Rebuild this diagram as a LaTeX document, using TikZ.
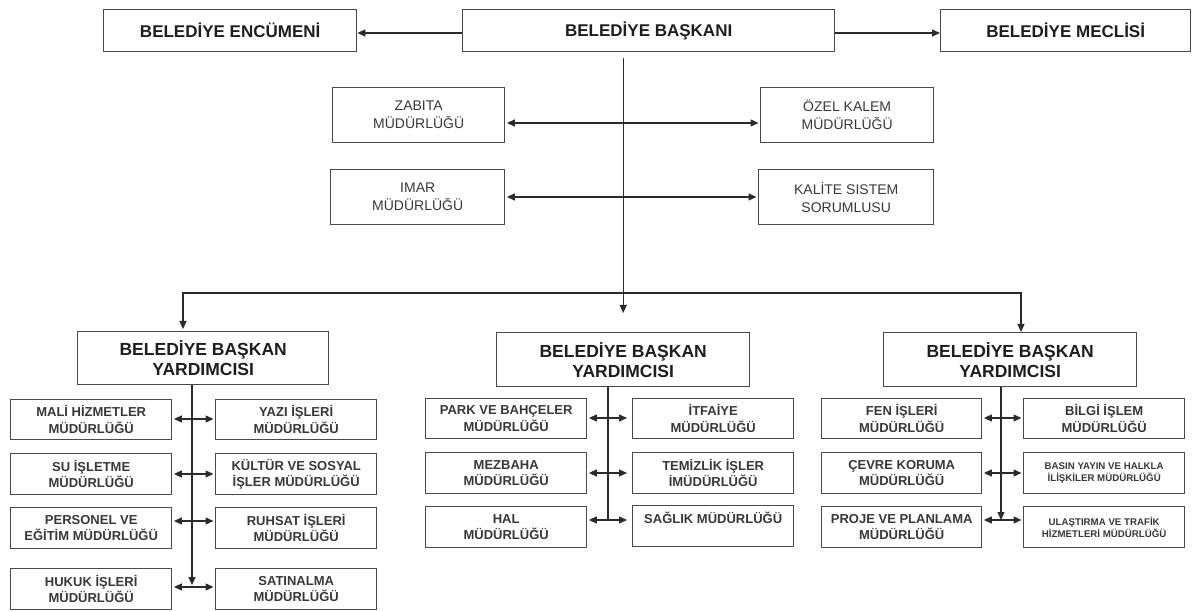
\documentclass[tikz,border=0pt]{standalone}
\usepackage{fontspec}
\setmainfont{Liberation Sans}
\usetikzlibrary{arrows.meta,calc}
\definecolor{ln}{HTML}{2B2B2B}
\definecolor{bd}{HTML}{4A4A4A}
\definecolor{tx}{HTML}{1E1E1E}
\definecolor{txb}{HTML}{383838}
\begin{document}
\begin{tikzpicture}[x=1pt,y=-1pt,
  box/.style={draw=bd, line width=1.4pt, fill=white, anchor=north west, inner sep=0pt, align=center, text=tx},
  topbox/.style={box, font=\fontsize{17}{20}\selectfont\bfseries},
  vpbox/.style={box, font=\fontsize{17.5}{20}\selectfont\bfseries},
  midbox/.style={box, text=txb, font=\fontsize{14}{18}\selectfont},
  subbox/.style={box, text=txb, font=\fontsize{13}{16.5}\selectfont\bfseries},
  tinybox/.style={box, text=txb, font=\fontsize{9.7}{12}\selectfont\bfseries},
  con/.style={draw=ln, line width=1.3pt},
  tip/.style={-{Triangle[length=8pt,width=7pt]}},
  dbl/.style={{Triangle[length=8pt,width=7pt]}-{Triangle[length=8pt,width=7pt]}, shorten <=1.5pt, shorten >=1.5pt}
]
\useasboundingbox[fill=white] (0,0) rectangle (1195,612);

% top row
\node[topbox, minimum width=253pt, minimum height=42pt] (enc) at (103,9) {BELEDİYE ENCÜMENİ};
\node[topbox, minimum width=372pt, minimum height=42pt] (bsk) at (462,9) {BELEDİYE BAŞKANI};
\node[topbox, minimum width=250pt, minimum height=42pt] (mec) at (940,9) {BELEDİYE MECLİSİ};

% staff units
\node[midbox, minimum width=172pt, minimum height=55pt] (zab) at (332,87) {ZABITA\\MÜDÜRLÜĞÜ};
\node[midbox, minimum width=173pt, minimum height=55pt] (ozk) at (760,87) {ÖZEL KALEM\\MÜDÜRLÜĞÜ};
\node[midbox, minimum width=174pt, minimum height=55pt] (imr) at (330,169) {IMAR\\MÜDÜRLÜĞÜ};
\node[midbox, minimum width=175pt, minimum height=55pt] (kal) at (758,169) {KALİTE SISTEM\\SORUMLUSU};

% deputy mayors
\node[vpbox, minimum width=251pt, minimum height=53pt] (vpl) at (77,331) {BELEDİYE BAŞKAN\\YARDIMCISI};
\node[vpbox, minimum width=253pt, minimum height=54pt] (vpm) at (496,332) {BELEDİYE BAŞKAN\\YARDIMCISI};
\node[vpbox, minimum width=253pt, minimum height=54pt] (vpr) at (883,332) {BELEDİYE BAŞKAN\\YARDIMCISI};

% left column
\node[subbox, minimum width=161pt, minimum height=40pt] (a1L) at (10,399) {MALİ HİZMETLER\\MÜDÜRLÜĞÜ};
\node[subbox, minimum width=161pt, minimum height=40pt] (a1R) at (215,399) {YAZI İŞLERİ\\MÜDÜRLÜĞÜ};
\node[subbox, minimum width=161pt, minimum height=41pt] (a2L) at (10,453) {SU İŞLETME\\MÜDÜRLÜĞÜ};
\node[subbox, minimum width=161pt, minimum height=41pt] (a2R) at (215,453) {KÜLTÜR VE SOSYAL\\İŞLER MÜDÜRLÜĞÜ};
\node[subbox, minimum width=161pt, minimum height=41pt] (a3L) at (10,507) {PERSONEL VE\\EĞİTİM MÜDÜRLÜĞÜ};
\node[subbox, minimum width=161pt, minimum height=41pt] (a3R) at (215,507) {RUHSAT İŞLERİ\\MÜDÜRLÜĞÜ};
\node[subbox, minimum width=161pt, minimum height=41pt] (a4L) at (10,568) {HUKUK İŞLERİ\\MÜDÜRLÜĞÜ};
\node[subbox, minimum width=161pt, minimum height=41pt] (a4R) at (215,568) {SATINALMA\\MÜDÜRLÜĞÜ};

% middle column
\node[subbox, minimum width=161pt, minimum height=40pt] (b1L) at (425,398) {PARK VE BAHÇELER\\MÜDÜRLÜĞÜ};
\node[subbox, minimum width=161pt, minimum height=40pt] (b1R) at (632,398) {İTFAİYE\\MÜDÜRLÜĞÜ};
\node[subbox, minimum width=161pt, minimum height=41pt] (b2L) at (425,452) {MEZBAHA\\MÜDÜRLÜĞÜ};
\node[subbox, minimum width=161pt, minimum height=41pt] (b2R) at (632,452) {TEMİZLİK İŞLER\\İMÜDÜRLÜĞÜ};
\node[subbox, minimum width=161pt, minimum height=41pt] (b3L) at (425,506) {HAL\\MÜDÜRLÜĞÜ};
\node[subbox, minimum width=161pt, minimum height=41pt] (b3R) at (632,505) {SAĞLIK MÜDÜRLÜĞÜ\\~};

% right column
\node[subbox, minimum width=160pt, minimum height=40pt] (c1L) at (821,398) {FEN İŞLERİ\\MÜDÜRLÜĞÜ};
\node[subbox, minimum width=161pt, minimum height=40pt] (c1R) at (1023,398) {BİLGİ İŞLEM\\MÜDÜRLÜĞÜ};
\node[subbox, minimum width=160pt, minimum height=41pt] (c2L) at (821,452) {ÇEVRE KORUMA\\MÜDÜRLÜĞÜ};
\node[tinybox, minimum width=161pt, minimum height=41pt] (c2R) at (1023,452) {BASIN YAYIN VE HALKLA\\İLİŞKİLER MÜDÜRLÜĞÜ};
\node[subbox, minimum width=160pt, minimum height=41pt] (c3L) at (821,506) {PROJE VE PLANLAMA\\MÜDÜRLÜĞÜ};
\node[tinybox, minimum width=161pt, minimum height=41pt] (c3R) at (1023,506) {ULAŞTIRMA VE TRAFİK\\HİZMETLERİ MÜDÜRLÜĞÜ};

% helper coordinates
\coordinate (yt) at (0,33);
\coordinate (yz) at (0,123);
\coordinate (yi) at (0,197);
\coordinate (hl) at (183,293);
\coordinate (hr) at (1021,293);
\coordinate (cl) at (192,0);
\coordinate (cm) at (608,0);
\coordinate (cr) at (1001,0);
\coordinate (ya1) at (0,419);
\coordinate (ya2) at (0,474);
\coordinate (ya3) at (0,521);
\coordinate (ya4) at (0,587);
\coordinate (yb1) at (0,418);
\coordinate (yb2) at (0,473);
\coordinate (yb3) at (0,520);

% top connectors
\draw[con,tip] (bsk.west |- yt) -- (enc.east |- yt);
\draw[con,tip] (bsk.east |- yt) -- (mec.west |- yt);
\draw[con,dbl] (zab.east |- yz) -- (ozk.west |- yz);
\draw[con,dbl] (imr.east |- yi) -- (kal.west |- yi);
\draw[con,tip,shorten <=6pt,shorten >=19pt] (bsk.south -| vpm.north) -- (vpm.north);
\draw[con,dbl,shorten <=2pt,shorten >=0pt] (vpl.north -| hl) -- (hl) -- (hr) -- (vpr.north -| hr);

% left column connectors
\draw[con,tip,shorten >=2pt] (vpl.south -| cl) -- (cl |- ya4);
\draw[con,dbl] (a1L.east |- ya1) -- (a1R.west |- ya1);
\draw[con,dbl] (a2L.east |- ya2) -- (a2R.west |- ya2);
\draw[con,dbl] (a3L.east |- ya3) -- (a3R.west |- ya3);
\draw[con,dbl] (a4L.east |- ya4) -- (a4R.west |- ya4);

% middle column connectors
\draw[con] (vpm.south -| cm) -- (cm |- yb3);
\draw[con,dbl,shorten >=5pt] (b1L.east |- yb1) -- (b1R.west |- yb1);
\draw[con,dbl,shorten >=5pt] (b2L.east |- yb2) -- (b2R.west |- yb2);
\draw[con,dbl,shorten >=5pt] (b3L.east |- yb3) -- (b3R.west |- yb3);

% right column connectors
\draw[con,tip] (vpr.south -| cr) -- (cr |- yb3);
\draw[con,dbl] (c1L.east |- yb1) -- (c1R.west |- yb1);
\draw[con,dbl] (c2L.east |- yb2) -- (c2R.west |- yb2);
\draw[con,dbl] (c3L.east |- yb3) -- (c3R.west |- yb3);
\end{tikzpicture}
\end{document}
